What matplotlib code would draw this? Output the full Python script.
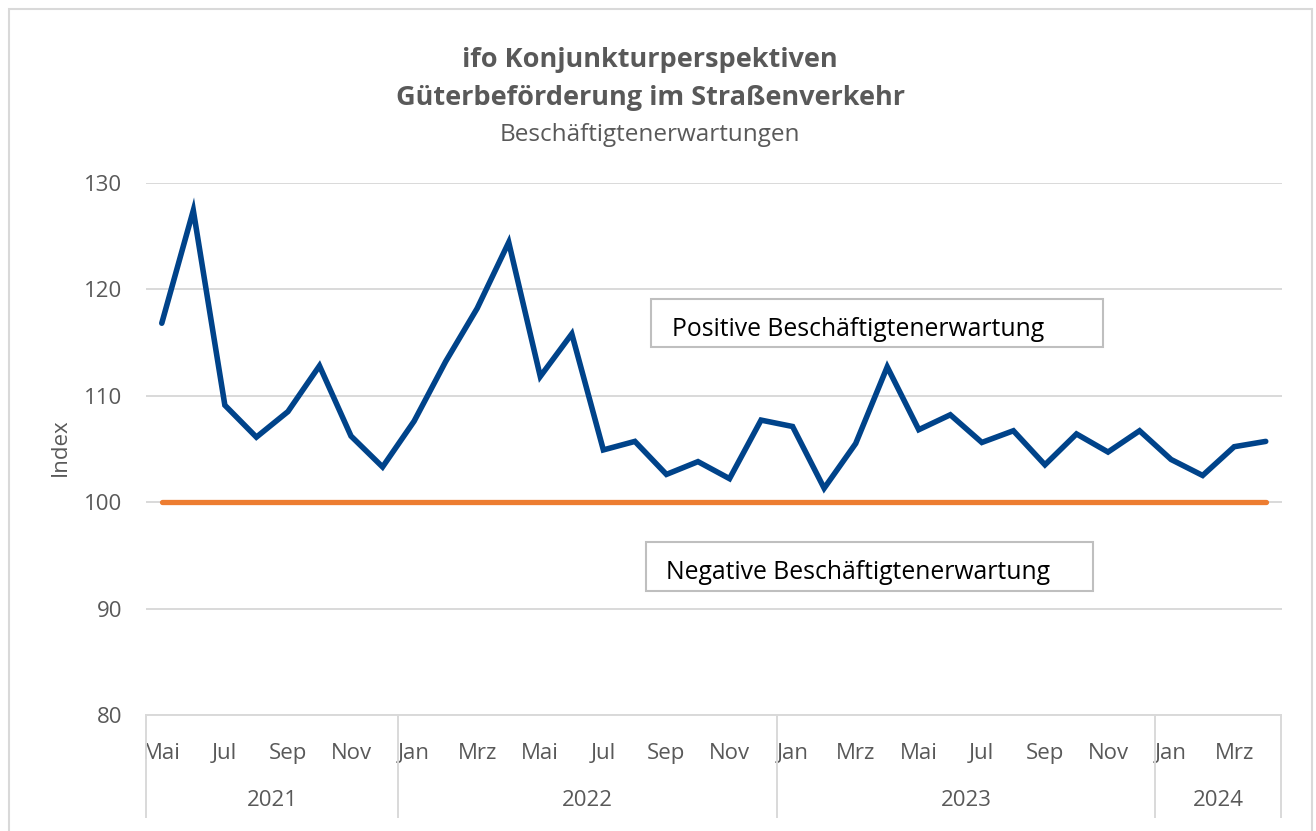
import matplotlib
matplotlib.use("Agg")
import matplotlib.pyplot as plt
from matplotlib.patches import Rectangle
from matplotlib.lines import Line2D

# monthly values, Mai 2021 .. Apr 2024
months = (["Mai", "Jun", "Jul", "Aug", "Sep", "Okt", "Nov", "Dez"]
          + ["Jan", "Feb", "Mrz", "Apr", "Mai", "Jun", "Jul", "Aug", "Sep", "Okt", "Nov", "Dez"] * 2
          + ["Jan", "Feb", "Mrz", "Apr"])
years = ["2021", "2022", "2023", "2024"]
year_counts = [8, 12, 12, 4]

expectations = [116.8, 127.4, 109.1, 106.1, 108.5, 112.8, 106.2, 103.3,
                107.6, 113.2, 118.2, 124.4, 111.8, 115.8, 104.9, 105.7,
                102.6, 103.8, 102.2, 107.7, 107.1, 101.3, 105.5, 112.7,
                106.8, 108.2, 105.6, 106.7, 103.5, 106.4, 104.7, 106.7,
                104.0, 102.5, 105.2, 105.7]
neutral = [100.0] * len(expectations)

plt.rcParams["font.family"] = ["Open Sans", "DejaVu Sans"]

C_BLUE = "#00438A"
C_ORANGE = "#ED7D31"
C_GRID = "#D9D9D9"
C_TEXT = "#595959"

W, H = 1316, 831
fig = plt.figure(figsize=(W / 100, H / 100), dpi=100)


def fx(px):
    return px / W


def fy(py):
    return 1 - py / H


ax = fig.add_axes([fx(146), fy(715), fx(1281.5) - fx(146), fy(182.7) - fy(715)])

x = list(range(len(expectations)))
ax.plot(x, neutral, color=C_ORANGE, linewidth=3.8, solid_capstyle="round", zorder=3)
ax.plot(x, expectations, color=C_BLUE, linewidth=4.0, solid_capstyle="round",
        solid_joinstyle="miter", zorder=4)

ax.set_xlim(-0.5, len(expectations) - 0.5)
ax.set_ylim(80, 130)
ax.set_yticks(range(80, 131, 10))
ax.grid(axis="y", color=C_GRID, linewidth=1.4)
ax.set_axisbelow(True)
for s in ("top", "right", "left"):
    ax.spines[s].set_visible(False)
ax.spines["bottom"].set_color(C_GRID)
ax.spines["bottom"].set_linewidth(1.4)
ax.tick_params(axis="y", length=0, pad=17, labelsize=16, labelcolor=C_TEXT)

ax.set_xticks(x[::2])
ax.set_xticklabels(months[::2])
ax.tick_params(axis="x", length=0, pad=20, labelsize=16, labelcolor=C_TEXT)

# year group labels and separators
axis_h = 715 - 182.7
sep_depth = -(817 - 715) / axis_h
start = 0
for yr, n in zip(years, year_counts):
    ax.add_line(Line2D([start - 0.5, start - 0.5], [0, sep_depth], color=C_GRID,
                       linewidth=1.4, transform=ax.get_xaxis_transform(), clip_on=False))
    ax.text(start + (n - 1) / 2, -(801 - 715) / axis_h, yr, ha="center", va="center",
            fontsize=16, color=C_TEXT, transform=ax.get_xaxis_transform())
    start += n
ax.add_line(Line2D([start - 0.5, start - 0.5], [0, sep_depth], color=C_GRID,
                   linewidth=1.4, transform=ax.get_xaxis_transform(), clip_on=False))

fig.text(fx(60), fy(447), "Index", rotation=90, ha="center", va="center",
         fontsize=16, color=C_TEXT)

# titles
fig.text(fx(650), fy(60), "ifo Konjunkturperspektiven", ha="center", va="center",
         fontsize=19.5, fontweight="bold", color=C_TEXT)
fig.text(fx(650), fy(98), "Güterbeförderung im Straßenverkehr", ha="center", va="center",
         fontsize=19.5, fontweight="bold", color=C_TEXT)
fig.text(fx(650), fy(135), "Beschäftigtenerwartungen", ha="center", va="center",
         fontsize=17.5, color=C_TEXT)

# annotation boxes
for (x0, y0, x1, y1), tx, label in (
        ((651, 299, 1103, 347), 672, "Positive Beschäftigtenerwartung"),
        ((645.5, 542, 1092.5, 591), 666, "Negative Beschäftigtenerwartung")):
    fig.patches.append(Rectangle((fx(x0), fy(y1)), fx(x1) - fx(x0), fy(y0) - fy(y1),
                                 transform=fig.transFigure, facecolor="white",
                                 edgecolor="#BFBFBF", linewidth=1.5, zorder=5))
    fig.text(fx(tx), fy((y0 + y1) / 2 + 6), label, ha="left", va="center",
             fontsize=17.8, color="black", zorder=6)

# chart area border
fig.patches.append(Rectangle((fx(9), fy(H + 10)), fx(1312) - fx(9), fy(9) - fy(H + 10),
                             transform=fig.transFigure, facecolor="none",
                             edgecolor=C_GRID, linewidth=1.5))

fig.savefig("out.png", dpi=100)
